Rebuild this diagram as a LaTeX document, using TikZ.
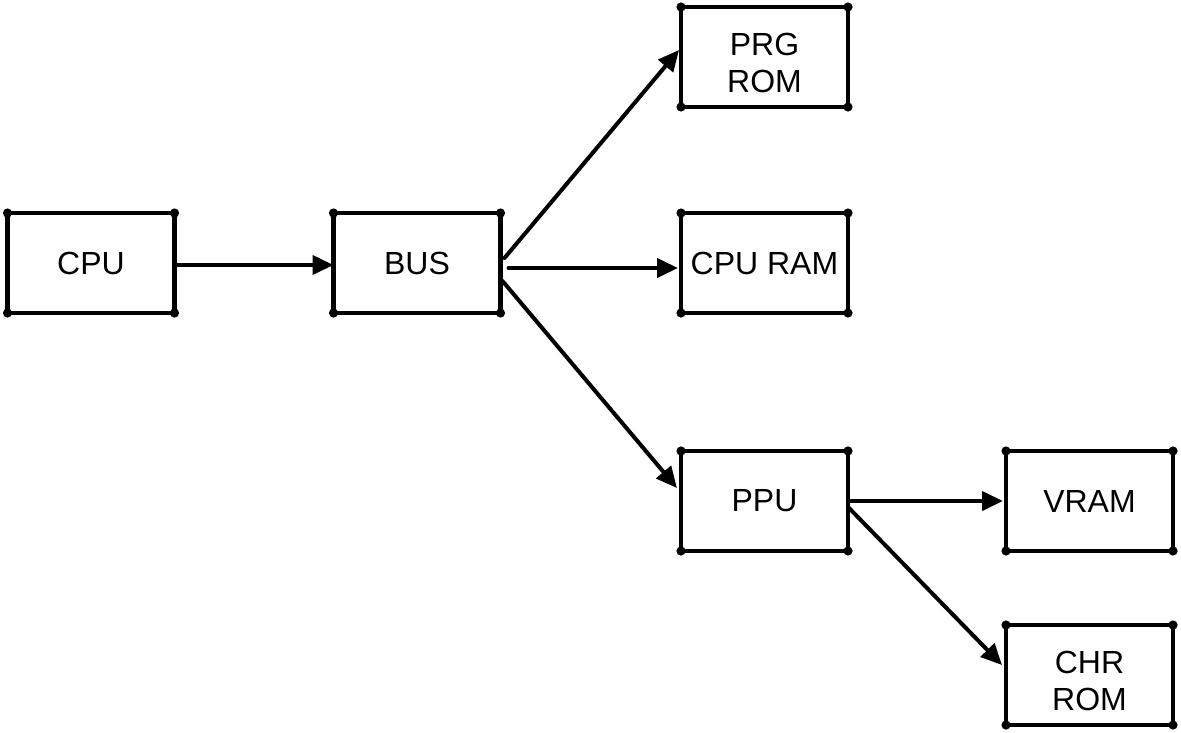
\documentclass[tikz,border=0pt]{standalone}
\usepackage{fontspec}
\setmainfont{Liberation Sans}
\usetikzlibrary{arrows.meta}
\newcommand{\twolines}[2]{\raisebox{-15.5pt}[20pt][20pt]{\begin{tabular}{@{}c@{}}#1\\#2\end{tabular}}}
\begin{document}
\begin{tikzpicture}[x=1pt,y=-1pt,
  box/.style={draw=black, line width=4.4pt, line join=round, outer sep=0pt,
    minimum width=167pt, minimum height=100pt, inner sep=0pt, align=center,
    font=\fontsize{32}{37}\selectfont},
  conn/.style={line width=4pt, line cap=round, -{Triangle[length=21pt,width=19pt]}}]
\useasboundingbox (0,0) rectangle (1181,732);
\node[box] (cpu) at (91,263) {CPU};
\node[box] (bus) at (417,263) {BUS};
\node[box] (prg) at (764.5,57) {\twolines{PRG}{ROM}};
\node[box] (ram) at (764.5,263) {CPU RAM};
\node[box] (ppu) at (764.5,501) {PPU};
\node[box] (vram) at (1089.5,501) {VRAM};
\node[box] (chr) at (1089.5,675) {\twolines{CHR}{ROM}};
\foreach \n in {cpu,bus,prg,ram,ppu,vram,chr}
  \foreach \a in {north east,north west,south east,south west}
    \fill (\n.\a) circle (4.6);
\draw[conn] ([yshift=-2]cpu.east) -- ([yshift=-2]bus.west);
\draw[conn] ([shift={(4,-5)}]bus.east) -- ([shift={(-2,-7)}]prg.west);
\draw[conn] ([shift={(8,5)}]bus.east) -- ([shift={(-3,5)}]ram.west);
\draw[conn] ([shift={(2,18)}]bus.east) -- ([shift={(-4,-13)}]ppu.west);
\draw[conn] (ppu.east) -- ([xshift=-3]vram.west);
\draw[conn] ([shift={(1,7)}]ppu.east) -- ([shift={(-4,-10)}]chr.west);
\end{tikzpicture}
\end{document}
